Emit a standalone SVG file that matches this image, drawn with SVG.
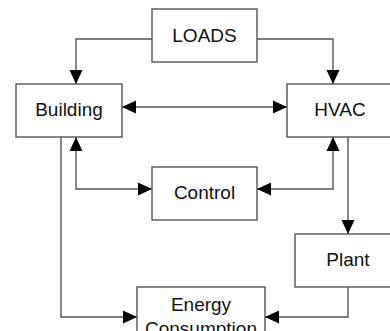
<svg xmlns="http://www.w3.org/2000/svg" width="390" height="331" viewBox="0 0 390 331">
<style>
.box{fill:#fff;stroke:#555;stroke-width:1.4}
.lbl{font-family:"Liberation Sans",Arial,sans-serif;font-size:19px;fill:#111;text-anchor:middle}
.conn{fill:none;stroke:#555;stroke-width:1.4}
</style>
<defs>
<marker id="ah" markerUnits="userSpaceOnUse" markerWidth="14" markerHeight="14" refX="14" refY="6.5" orient="auto-start-reverse" viewBox="0 0 14 13">
<path d="M0,0 L14,6.5 L0,13 z" fill="#000"/>
</marker>
</defs>
<rect width="390" height="331" fill="#fff"/>
<g id="connectors">
<polyline class="conn" points="152,39 76,39 76,84" marker-end="url(#ah)"/>
<polyline class="conn" points="257,39 333,39 333,84" marker-end="url(#ah)"/>
<line class="conn" x1="122" y1="107" x2="287" y2="107" marker-start="url(#ah)" marker-end="url(#ah)"/>
<polyline class="conn" points="76,137 76,189 152,189" marker-start="url(#ah)" marker-end="url(#ah)"/>
<polyline class="conn" points="333,137 333,189 257,189" marker-start="url(#ah)" marker-end="url(#ah)"/>
<line class="conn" x1="348" y1="137" x2="348" y2="234" marker-end="url(#ah)"/>
<polyline class="conn" points="61,137 61,317 137,317" marker-end="url(#ah)"/>
<polyline class="conn" points="348,287 348,317 265,317" marker-end="url(#ah)"/>
</g>
<g id="loads"><rect class="box" x="152" y="9" width="105" height="53"/><text class="lbl" x="204.5" y="42">LOADS</text></g>
<g id="building"><rect class="box" x="16" y="84" width="106" height="53"/><text class="lbl" x="69" y="116">Building</text></g>
<g id="hvac"><rect class="box" x="287" y="84" width="106" height="53"/><text class="lbl" x="340" y="116">HVAC</text></g>
<g id="control"><rect class="box" x="152" y="167" width="105" height="53"/><text class="lbl" x="204.5" y="199">Control</text></g>
<g id="plant"><rect class="box" x="295" y="234" width="106" height="53"/><text class="lbl" x="348" y="266">Plant</text></g>
<g id="energy"><rect class="box" x="137" y="287" width="128" height="60"/><text class="lbl" x="201" y="311">Energy</text><text class="lbl" x="201" y="335">Consumption</text></g>
</svg>
